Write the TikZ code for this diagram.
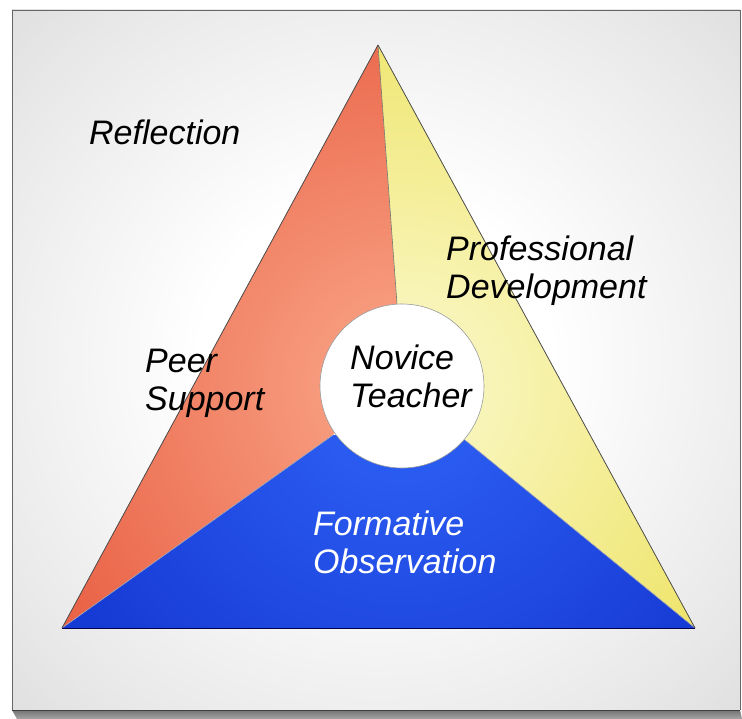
\documentclass[tikz,border=0pt]{standalone}
\usepackage{fontspec}
\setmainfont{Liberation Sans}
\begin{document}
% radial fill for the slide background
\pgfdeclareradialshading{slidebg}{\pgfpoint{0bp}{0bp}}{%
  color(0bp)=(white); color(12bp)=(white); color(30bp)=(black!9);
  color(50bp)=(black!21); color(71bp)=(black!31)}
\definecolor{redA}{RGB}{234,100,72}
\definecolor{redB}{RGB}{250,168,138}
\definecolor{yelA}{RGB}{251,249,206}
\definecolor{yelB}{RGB}{238,228,104}
\definecolor{bluA}{RGB}{48,100,248}
\definecolor{bluB}{RGB}{22,58,212}
\tikzset{
  label/.style={inner sep=0pt, anchor=base west, align=left,
    font=\fontsize{34}{38}\selectfont\itshape},
  divider/.style={draw=black!55, line width=0.6pt},
  seam/.style={draw=black!30, line width=0.6pt},
  rim/.style={draw=black!70, line width=0.8pt, line join=round},
}
\begin{tikzpicture}[x=1pt,y=-1pt]
\useasboundingbox (0,0) rectangle (742,719);
\fill[white] (0,0) rectangle (742,719);
% slide panel and its lower edge
\shade[shading=slidebg] (12,10) rectangle (740,710);
\shade[top color=black!55, bottom color=black!35] (12,710) -- (740,710) -- (742,719) -- (17,719) -- cycle;
\draw[black!60, line width=0.8pt] (12,710) -- (12,10) -- (740,10) -- (740,710);
\draw[black!75, line width=1pt] (12,710) -- (740,710);

% triangle corners and points where the dividers meet the hub
\coordinate (apex) at (378,45);
\coordinate (bl) at (62,628);
\coordinate (br) at (695,628);
\coordinate (pry) at (397,304);
\coordinate (prb) at (333,435);
\coordinate (pby) at (465,440);
\coordinate (hub) at (402,386);

% three sectors, each lightening toward the hub
\begin{scope}
  \clip (apex) -- (bl) -- (prb) -- (pry) -- cycle;
  \fill[redA] (0,0) rectangle (742,719);
  \shade[inner color=redB, outer color=redA] (hub) circle[radius=390];
\end{scope}
\begin{scope}
  \clip (apex) -- (pry) -- (pby) -- (br) -- cycle;
  \fill[yelB] (0,0) rectangle (742,719);
  \shade[inner color=yelA, outer color=yelB] (hub) circle[radius=390];
\end{scope}
\begin{scope}
  \clip (bl) -- (br) -- (pby) -- (prb) -- cycle;
  \fill[bluB] (0,0) rectangle (742,719);
  \shade[inner color=bluA, outer color=bluB] (hub) circle[radius=390];
\end{scope}

% dividers and outline
\draw[divider] (apex) -- (pry);
\draw[seam] (bl) -- (prb);
\draw[seam] (br) -- (pby);
\draw[rim] (apex) -- (bl);
\draw[rim] (apex) -- (br);
\draw[draw=blue!30!black, line width=1pt] (bl) -- (br);

% centre disc
\fill[white] (hub) circle[radius=82];
\draw[black!40, line width=0.6pt] (hub) circle[radius=82];

% labels (anchored at the baseline of their last line)
\node[label] (refl) at (89,145) {Reflection};
\node[label] (prof) at (446,299) {Professional\\Development};
\node[label] (peer) at (145,410) {Peer\\Support};
\node[label] (nov) at (350,407) {Novice\\Teacher};
\node[label, text=white] (form) at (313,573) {Formative\\Observation};
\end{tikzpicture}
\end{document}
